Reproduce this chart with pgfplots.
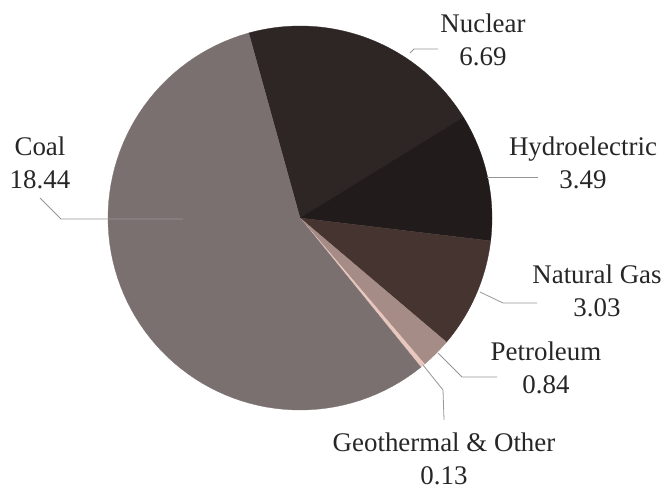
\documentclass[border=0pt]{standalone}
\usepackage{pgfplots}
\pgfplotsset{compat=1.18}
\usepackage{fontspec}
\setmainfont{LiberationSerif-Regular.ttf}
\newfontfamily\lblfont{LiberationSerif-Regular.ttf}

% slice colours
\definecolor{cCoal}{RGB}{122,112,112}
\definecolor{cNuc}{RGB}{46,38,36}
\definecolor{cHyd}{RGB}{33,28,27}
\definecolor{cGas}{RGB}{69,52,48}
\definecolor{cPet}{RGB}{166,140,135}
\definecolor{cGeo}{RGB}{232,200,190}
\definecolor{cLead}{RGB}{150,150,150}

% electricity generation by source
\def\vCoal{18.44}
\def\vNuc{6.69}
\def\vHyd{3.49}
\def\vGas{3.03}
\def\vPet{0.84}
\def\vGeo{0.13}

\pgfmathsetmacro\tot{\vCoal+\vNuc+\vHyd+\vGas+\vPet+\vGeo}
% slices run clockwise, starting with Nuclear
\pgfmathsetmacro\aA{105.5}
\pgfmathsetmacro\aB{\aA-360*\vNuc/\tot}
\pgfmathsetmacro\aC{\aB-360*\vHyd/\tot}
\pgfmathsetmacro\aD{\aC-360*\vGas/\tot}
\pgfmathsetmacro\aE{\aD-360*\vPet/\tot}
\pgfmathsetmacro\aF{\aE-360*\vGeo/\tot}
\pgfmathsetmacro\aG{\aF-360*\vCoal/\tot}

\newcommand\slice[3]{%
  \addplot[fill=#3, draw=#3, line width=0.3pt, domain=#2:#1, samples=80, variable=\t]
    ({300+192*cos(\t)},{218-192*sin(\t)}) -- (axis cs:300,218) -- cycle;}

\tikzset{lbl/.style={font=\lblfont\fontsize{27}{33}\selectfont, align=center, text=black!85, inner sep=0pt}}

\begin{document}
\begin{tikzpicture}
\path[use as bounding box, clip] (0,0) rectangle (669bp,493bp);
\begin{axis}[
  at={(0,0)}, anchor=south west,
  scale only axis, width=669bp, height=493bp,
  xmin=0, xmax=669, ymin=0, ymax=493, y dir=reverse,
  hide axis, clip=false,
]
\slice{\aA}{\aB}{cNuc}
\slice{\aB}{\aC}{cHyd}
\slice{\aC}{\aD}{cGas}
\slice{\aD}{\aE}{cPet}
\slice{\aE}{\aF}{cGeo}
\slice{\aF}{\aG}{cCoal}

% leader lines
\addplot[cLead, line width=0.8pt] coordinates {(183,219) (61,219) (40,198)};
\addplot[cLead, line width=0.8pt] coordinates {(410,53) (414,49) (438,49)};
\addplot[cLead, line width=0.8pt] coordinates {(487,177) (538,177)};
\addplot[cLead, line width=0.8pt] coordinates {(480,292) (503,303) (537,303)};
\addplot[cLead, line width=0.8pt] coordinates {(438,353) (462,377) (497,377)};
\addplot[cLead, line width=0.8pt] coordinates {(423,365) (443,390) (444,420)};

% labels
\node[lbl] at (axis cs:40,163) {Coal\\18.44};
\node[lbl] at (axis cs:483,40) {Nuclear\\6.69};
\node[lbl] at (axis cs:583,163) {Hydroelectric\\3.49};
\node[lbl] at (axis cs:597,291) {Natural Gas\\3.03};
\node[lbl] at (axis cs:546,368) {Petroleum\\0.84};
\node[lbl] at (axis cs:444,459) {Geothermal \& Other\\0.13};
\end{axis}
\end{tikzpicture}
\end{document}
